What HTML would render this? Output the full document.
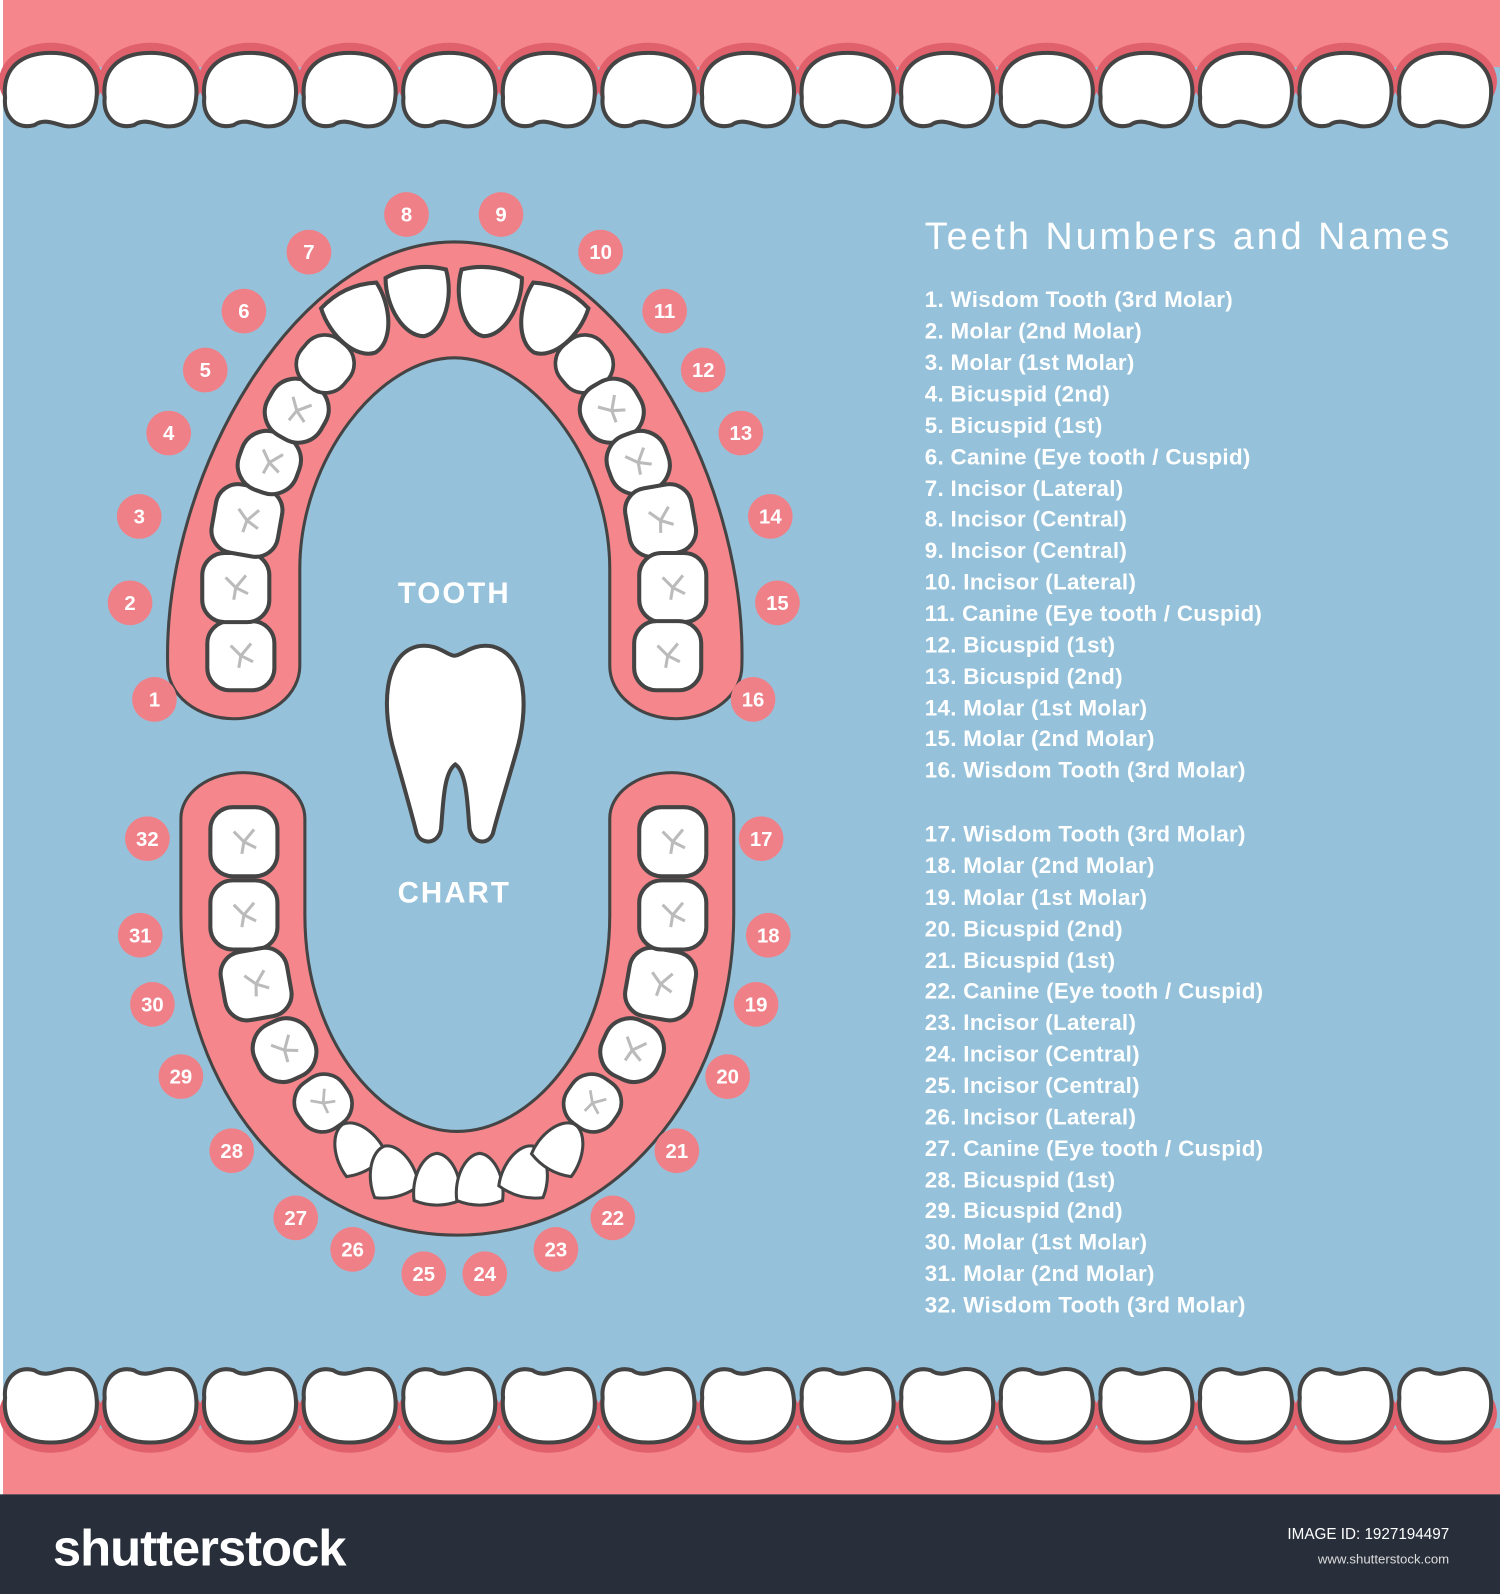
<!DOCTYPE html>
<html><head><meta charset="utf-8"><style>
html,body{margin:0;padding:0;background:#fff}
svg{display:block}
.n{font-family:"Liberation Sans",sans-serif;font-weight:bold;font-size:20px;fill:#fff;text-anchor:middle}
.l{font-family:"Liberation Sans",sans-serif;font-weight:bold;font-size:22px;fill:#fff;letter-spacing:0.3px}
</style></head><body>
<svg width="1500" height="1594" viewBox="0 0 1476 1568" preserveAspectRatio="none" xmlns="http://www.w3.org/2000/svg">
<defs>
<path id="rt" d="M-45,8 C-48,-22 -28,-36 0,-36 C28,-36 48,-22 45,8 C43,30 30,38 14,36 C4,34 -6,28 -16,35 C-32,40 -47,28 -45,8Z" fill="#fff" stroke="#444" stroke-width="4"/>
<rect id="mo" x="-33" y="-34" width="66" height="68" rx="22" fill="#fff" stroke="#444" stroke-width="4"/>
<rect id="pm" x="-30" y="-30" width="60" height="60" rx="26" fill="#fff" stroke="#444" stroke-width="4"/>
<path id="inc" d="M-30,-28 C-10,-36 10,-36 30,-28 C34,0 20,32 0,34 C-20,32 -34,0 -30,-28Z" fill="#fff" stroke="#444" stroke-width="4"/>
<path id="fs" d="M-10,-10 L0,0 L10,-12 M0,0 L-2,12 M0,0 L12,6" stroke="#bbb" stroke-width="3" fill="none"/>
</defs>
<rect width="1476" height="1568" fill="#95c2da"/>
<rect width="3" height="1470" fill="#fff"/>
<!-- top gum -->
<rect x="3" y="0" width="1473" height="66" fill="#f4868c"/>
<g fill="#e0606c">
<ellipse cx="50" cy="80" rx="51" ry="38"/><ellipse cx="148" cy="80" rx="51" ry="38"/><ellipse cx="246" cy="80" rx="51" ry="38"/><ellipse cx="344" cy="80" rx="51" ry="38"/><ellipse cx="442" cy="80" rx="51" ry="38"/><ellipse cx="540" cy="80" rx="51" ry="38"/><ellipse cx="638" cy="80" rx="51" ry="38"/><ellipse cx="736" cy="80" rx="51" ry="38"/><ellipse cx="834" cy="80" rx="51" ry="38"/><ellipse cx="932" cy="80" rx="51" ry="38"/><ellipse cx="1030" cy="80" rx="51" ry="38"/><ellipse cx="1128" cy="80" rx="51" ry="38"/><ellipse cx="1226" cy="80" rx="51" ry="38"/><ellipse cx="1324" cy="80" rx="51" ry="38"/><ellipse cx="1422" cy="80" rx="51" ry="38"/>
</g>
<g>
<use href="#rt" x="50" y="88"/><use href="#rt" x="148" y="88"/><use href="#rt" x="246" y="88"/><use href="#rt" x="344" y="88"/><use href="#rt" x="442" y="88"/><use href="#rt" x="540" y="88"/><use href="#rt" x="638" y="88"/><use href="#rt" x="736" y="88"/><use href="#rt" x="834" y="88"/><use href="#rt" x="932" y="88"/><use href="#rt" x="1030" y="88"/><use href="#rt" x="1128" y="88"/><use href="#rt" x="1226" y="88"/><use href="#rt" x="1324" y="88"/><use href="#rt" x="1422" y="88"/>
</g>
<!-- bottom gum -->
<rect x="3" y="1405" width="1473" height="65" fill="#f4868c"/>
<g fill="#e0606c">
<ellipse cx="50" cy="1391" rx="51" ry="38"/><ellipse cx="148" cy="1391" rx="51" ry="38"/><ellipse cx="246" cy="1391" rx="51" ry="38"/><ellipse cx="344" cy="1391" rx="51" ry="38"/><ellipse cx="442" cy="1391" rx="51" ry="38"/><ellipse cx="540" cy="1391" rx="51" ry="38"/><ellipse cx="638" cy="1391" rx="51" ry="38"/><ellipse cx="736" cy="1391" rx="51" ry="38"/><ellipse cx="834" cy="1391" rx="51" ry="38"/><ellipse cx="932" cy="1391" rx="51" ry="38"/><ellipse cx="1030" cy="1391" rx="51" ry="38"/><ellipse cx="1128" cy="1391" rx="51" ry="38"/><ellipse cx="1226" cy="1391" rx="51" ry="38"/><ellipse cx="1324" cy="1391" rx="51" ry="38"/><ellipse cx="1422" cy="1391" rx="51" ry="38"/>
</g>
<g transform="translate(0,2766) scale(1,-1)">
<use href="#rt" x="50" y="1383"/><use href="#rt" x="148" y="1383"/><use href="#rt" x="246" y="1383"/><use href="#rt" x="344" y="1383"/><use href="#rt" x="442" y="1383"/><use href="#rt" x="540" y="1383"/><use href="#rt" x="638" y="1383"/><use href="#rt" x="736" y="1383"/><use href="#rt" x="834" y="1383"/><use href="#rt" x="932" y="1383"/><use href="#rt" x="1030" y="1383"/><use href="#rt" x="1128" y="1383"/><use href="#rt" x="1226" y="1383"/><use href="#rt" x="1324" y="1383"/><use href="#rt" x="1422" y="1383"/>
</g>
<rect x="0" y="1470" width="1476" height="98" fill="#282f3a"/>
<text x="52" y="1540" font-family="Liberation Sans,sans-serif" font-weight="bold" font-size="50" fill="#fff" letter-spacing="-1">shutterstock</text>
<text x="1426" y="1514" font-family="Liberation Sans,sans-serif" font-size="15" fill="#fff" text-anchor="end">IMAGE ID: 1927194497</text>
<text x="1426" y="1538" font-family="Liberation Sans,sans-serif" font-size="13" fill="#ddd" text-anchor="end">www.shutterstock.com</text>

<!-- arches -->
<path d="M165,655 C160,470 290,238 447,238 C610,238 735,470 730,655 A65,52 0 0 1 600,655 L600,560 C600,450 520,352 447,352 C375,352 295,450 295,560 L295,655 A65,52 0 0 1 165,655 Z" fill="#f4868c" stroke="#444" stroke-width="3"/>
<path d="M178,805 A61,45 0 0 1 300,805 L300,900 C300,1030 380,1113 450,1113 C520,1113 600,1030 600,900 L600,805 A61,45 0 0 1 722,805 L722,900 C722,1080 600,1215 450,1215 C300,1215 178,1080 178,900 Z" fill="#f4868c" stroke="#444" stroke-width="3"/>

<!-- upper teeth -->
<g>
<g transform="translate(237,645)"><use href="#mo"/><use href="#fs"/></g>
<g transform="translate(232,578)"><use href="#mo"/><use href="#fs"/></g>
<g transform="translate(243,512) rotate(10)"><use href="#mo"/><use href="#fs"/></g>
<g transform="translate(265,455) rotate(20)"><use href="#pm"/><use href="#fs"/></g>
<g transform="translate(292,404) rotate(30)"><use href="#pm"/><use href="#fs"/></g>
<g transform="translate(320,358) rotate(40) scale(.9)"><use href="#pm"/></g>
<g transform="translate(355,316) rotate(-25)"><use href="#inc"/></g>
<g transform="translate(413,297) rotate(-8)"><use href="#inc"/></g>
<g transform="translate(480,297) rotate(8)"><use href="#inc"/></g>
<g transform="translate(540,316) rotate(25)"><use href="#inc"/></g>
<g transform="translate(575,358) rotate(-40) scale(.9)"><use href="#pm"/></g>
<g transform="translate(602,404) rotate(-30)"><use href="#pm"/><use href="#fs"/></g>
<g transform="translate(628,455) rotate(-20)"><use href="#pm"/><use href="#fs"/></g>
<g transform="translate(650,512) rotate(-10)"><use href="#mo"/><use href="#fs"/></g>
<g transform="translate(662,578)"><use href="#mo"/><use href="#fs"/></g>
<g transform="translate(657,645)"><use href="#mo"/><use href="#fs"/></g>
</g>
<!-- lower teeth -->
<g>
<g transform="translate(240,828)"><use href="#mo"/><use href="#fs"/></g>
<g transform="translate(240,900)"><use href="#mo"/><use href="#fs"/></g>
<g transform="translate(252,968) rotate(-10)"><use href="#mo"/><use href="#fs"/></g>
<g transform="translate(280,1033) rotate(-25)"><use href="#pm"/><use href="#fs"/></g>
<g transform="translate(318,1085) rotate(-35) scale(.9)"><use href="#pm"/><use href="#fs"/></g>
<g transform="translate(350,1128) rotate(150) scale(.75)"><use href="#inc"/></g>
<g transform="translate(385,1152) rotate(165) scale(.75)"><use href="#inc"/></g>
<g transform="translate(430,1160) rotate(180) scale(.75)"><use href="#inc"/></g>
<g transform="translate(472,1160) rotate(180) scale(.75)"><use href="#inc"/></g>
<g transform="translate(518,1152) rotate(195) scale(.75)"><use href="#inc"/></g>
<g transform="translate(553,1128) rotate(210) scale(.75)"><use href="#inc"/></g>
<g transform="translate(583,1085) rotate(35) scale(.9)"><use href="#pm"/><use href="#fs"/></g>
<g transform="translate(622,1033) rotate(25)"><use href="#pm"/><use href="#fs"/></g>
<g transform="translate(650,968) rotate(10)"><use href="#mo"/><use href="#fs"/></g>
<g transform="translate(662,900)"><use href="#mo"/><use href="#fs"/></g>
<g transform="translate(662,828)"><use href="#mo"/><use href="#fs"/></g>
</g>

<!-- center -->
<text x="447" y="593" font-family="Liberation Sans,sans-serif" font-weight="bold" font-size="29" fill="#fff" text-anchor="middle" letter-spacing="2">TOOTH</text>
<text x="447" y="888" font-family="Liberation Sans,sans-serif" font-weight="bold" font-size="29" fill="#fff" text-anchor="middle" letter-spacing="2">CHART</text>
<path d="M410,636 C430,632 440,645 447,645 C455,645 465,632 485,636 C520,645 520,700 508,740 C498,775 490,800 485,820 C480,832 465,830 462,815 C460,795 460,760 448,752 C436,760 436,795 434,815 C432,830 415,832 410,820 C405,800 398,775 388,740 C376,700 376,645 410,636Z" fill="#fff" stroke="#444" stroke-width="4"/>

<!-- number circles -->
<g fill="#f08088">
<circle cx="400" cy="211" r="22"/><circle cx="493" cy="211" r="22"/><circle cx="304" cy="248" r="22"/><circle cx="591" cy="248" r="22"/><circle cx="240" cy="306" r="22"/><circle cx="654" cy="306" r="22"/><circle cx="202" cy="364" r="22"/><circle cx="692" cy="364" r="22"/><circle cx="166" cy="426" r="22"/><circle cx="729" cy="426" r="22"/><circle cx="137" cy="508" r="22"/><circle cx="758" cy="508" r="22"/><circle cx="128" cy="593" r="22"/><circle cx="765" cy="593" r="22"/><circle cx="152" cy="688" r="22"/><circle cx="741" cy="688" r="22"/>
<circle cx="145" cy="825" r="22"/><circle cx="749" cy="825" r="22"/><circle cx="138" cy="920" r="22"/><circle cx="756" cy="920" r="22"/><circle cx="150" cy="988" r="22"/><circle cx="744" cy="988" r="22"/><circle cx="178" cy="1059" r="22"/><circle cx="716" cy="1059" r="22"/><circle cx="228" cy="1132" r="22"/><circle cx="666" cy="1132" r="22"/><circle cx="291" cy="1198" r="22"/><circle cx="603" cy="1198" r="22"/><circle cx="347" cy="1229" r="22"/><circle cx="547" cy="1229" r="22"/><circle cx="417" cy="1253" r="22"/><circle cx="477" cy="1253" r="22"/>
</g>
<g class="n">
<text x="400" y="218">8</text><text x="493" y="218">9</text><text x="304" y="255">7</text><text x="591" y="255">10</text><text x="240" y="313">6</text><text x="654" y="313">11</text><text x="202" y="371">5</text><text x="692" y="371">12</text><text x="166" y="433">4</text><text x="729" y="433">13</text><text x="137" y="515">3</text><text x="758" y="515">14</text><text x="128" y="600">2</text><text x="765" y="600">15</text><text x="152" y="695">1</text><text x="741" y="695">16</text>
<text x="145" y="832">32</text><text x="749" y="832">17</text><text x="138" y="927">31</text><text x="756" y="927">18</text><text x="150" y="995">30</text><text x="744" y="995">19</text><text x="178" y="1066">29</text><text x="716" y="1066">20</text><text x="228" y="1139">28</text><text x="666" y="1139">21</text><text x="291" y="1205">27</text><text x="603" y="1205">22</text><text x="347" y="1236">26</text><text x="547" y="1236">23</text><text x="417" y="1260">25</text><text x="477" y="1260">24</text>
</g>

<!-- legend -->
<text x="910" y="245" font-family="Liberation Sans,sans-serif" font-size="37" fill="#fff" letter-spacing="3">Teeth Numbers and Names</text>
<g class="l">
<text x="910" y="302">1. Wisdom Tooth (3rd Molar)</text>
<text x="910" y="333">2. Molar (2nd Molar)</text>
<text x="910" y="364">3. Molar (1st Molar)</text>
<text x="910" y="395">4. Bicuspid (2nd)</text>
<text x="910" y="426">5. Bicuspid (1st)</text>
<text x="910" y="457">6. Canine (Eye tooth / Cuspid)</text>
<text x="910" y="488">7. Incisor (Lateral)</text>
<text x="910" y="518">8. Incisor (Central)</text>
<text x="910" y="549">9. Incisor (Central)</text>
<text x="910" y="580">10. Incisor (Lateral)</text>
<text x="910" y="611">11. Canine (Eye tooth / Cuspid)</text>
<text x="910" y="642">12. Bicuspid (1st)</text>
<text x="910" y="673">13. Bicuspid (2nd)</text>
<text x="910" y="704">14. Molar (1st Molar)</text>
<text x="910" y="734">15. Molar (2nd Molar)</text>
<text x="910" y="765">16. Wisdom Tooth (3rd Molar)</text>
<text x="910" y="828">17. Wisdom Tooth (3rd Molar)</text>
<text x="910" y="859">18. Molar (2nd Molar)</text>
<text x="910" y="890">19. Molar (1st Molar)</text>
<text x="910" y="921">20. Bicuspid (2nd)</text>
<text x="910" y="952">21. Bicuspid (1st)</text>
<text x="910" y="982">22. Canine (Eye tooth / Cuspid)</text>
<text x="910" y="1013">23. Incisor (Lateral)</text>
<text x="910" y="1044">24. Incisor (Central)</text>
<text x="910" y="1075">25. Incisor (Central)</text>
<text x="910" y="1106">26. Incisor (Lateral)</text>
<text x="910" y="1137">27. Canine (Eye tooth / Cuspid)</text>
<text x="910" y="1168">28. Bicuspid (1st)</text>
<text x="910" y="1198">29. Bicuspid (2nd)</text>
<text x="910" y="1229">30. Molar (1st Molar)</text>
<text x="910" y="1260">31. Molar (2nd Molar)</text>
<text x="910" y="1291">32. Wisdom Tooth (3rd Molar)</text>
</g>
</svg>
</body></html>
